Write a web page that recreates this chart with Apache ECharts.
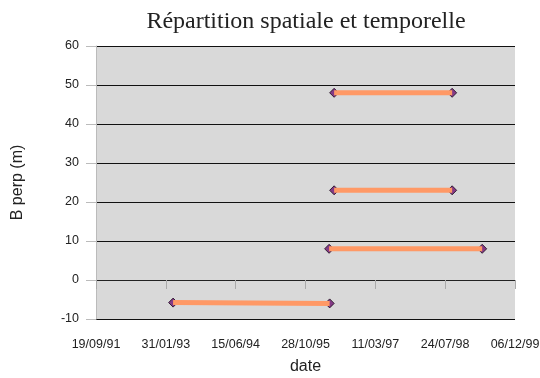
<!DOCTYPE html>
<html>
<head>
<meta charset="utf-8">
<script src="https://cdn.jsdelivr.net/npm/echarts@6/dist/echarts.min.js"></script>
<style>
  html, body { margin: 0; padding: 0; background: #ffffff; }
  #chart { width: 540px; height: 378px; }
</style>
</head>
<body>
<div id="chart"></div>
<script>
// Acquisition pairs: start date, end date, perpendicular baseline (m)
const pairStart = ['1996-05-20', '1996-05-20', '1996-04-14', '1993-03-24'];
const pairEnd   = ['1998-09-12', '1998-09-12', '1999-04-15', '1996-04-18'];
const bperpStart = [48, 23, 8, -5.8];
const bperpEnd   = [48, 23, 8, -6.0];

// Axis settings (dates as spreadsheet serial numbers)
const xMinDate = '1991-09-19';
const xMaxDate = '1999-12-06';
const xStepDays = 500;
const yTicks = [-10, 0, 10, 20, 30, 40, 50, 60];

const DAY = 86400000;
const EPOCH = Date.UTC(1899, 11, 30);
function toSerial(s) {
  const [y, m, d] = s.split('-').map(Number);
  return Math.round((Date.UTC(y, m - 1, d) - EPOCH) / DAY);
}
function fromSerial(n) {
  const dt = new Date(EPOCH + n * DAY);
  const dd = String(dt.getUTCDate()).padStart(2, '0');
  const mm = String(dt.getUTCMonth() + 1).padStart(2, '0');
  const yy = String(dt.getUTCFullYear() % 100).padStart(2, '0');
  return dd + '/' + mm + '/' + yy;
}

const series = [];
pairStart.forEach((s, i) => {
  const pts = [[toSerial(s), bperpStart[i]], [toSerial(pairEnd[i]), bperpEnd[i]]];
  series.push({
    type: 'scatter',
    data: pts,
    symbol: 'diamond',
    symbolSize: 9,
    itemStyle: { color: '#6e1270', borderColor: '#160616', borderWidth: 1 },
    z: 2,
    silent: true
  });
  series.push({
    type: 'line',
    data: pts,
    showSymbol: false,
    symbol: 'none',
    lineStyle: { color: '#ff9966', width: 5 },
    z: 3,
    silent: true
  });
});

const chart = echarts.init(document.getElementById('chart'), null, { renderer: 'canvas' });
chart.setOption({
  animation: false,
  title: {
    text: 'Répartition spatiale et temporelle',
    left: 301,
    textAlign: 'center',
    top: 5,
    textStyle: {
      fontFamily: 'Liberation Serif',
      fontSize: 24,
      fontWeight: 'normal',
      color: '#222222'
    }
  },
  grid: {
    left: 96, right: 25, top: 46, bottom: 59,
    outerBoundsMode: 'none',
    containLabel: false,
    show: true,
    backgroundColor: '#d9d9d9',
    borderWidth: 0
  },
  xAxis: {
    type: 'value',
    min: toSerial(xMinDate),
    max: toSerial(xMaxDate),
    interval: xStepDays,
    name: 'date',
    nameLocation: 'middle',
    nameGap: 40,
    nameTextStyle: { fontFamily: 'Liberation Sans', fontSize: 16, color: '#222' },
    axisLine: { show: true, lineStyle: { color: '#222222', width: 1 } },
    axisTick: { show: true, length: 9, lineStyle: { color: '#aaaaaa' } },
    axisLabel: {
      margin: 19,
      fontFamily: 'Liberation Sans',
      fontSize: 12.5,
      color: '#222',
      formatter: v => fromSerial(v)
    },
    splitLine: { show: false }
  },
  yAxis: {
    type: 'value',
    min: yTicks[0],
    max: yTicks[yTicks.length - 1],
    interval: yTicks[1] - yTicks[0],
    name: 'B perp (m)',
    nameLocation: 'middle',
    nameGap: 70,
    nameTextStyle: { fontFamily: 'Liberation Sans', fontSize: 16, color: '#222' },
    axisLine: { show: true, lineStyle: { color: '#bbbbbb', width: 1 } },
    axisTick: { show: true, length: 10, lineStyle: { color: '#bbbbbb' } },
    axisLabel: {
      margin: 17,
      fontFamily: 'Liberation Sans',
      fontSize: 12.5,
      color: '#222'
    },
    splitLine: { show: true, lineStyle: { color: '#111111', width: 1 } }
  },
  series: series
});
</script>
</body>
</html>
